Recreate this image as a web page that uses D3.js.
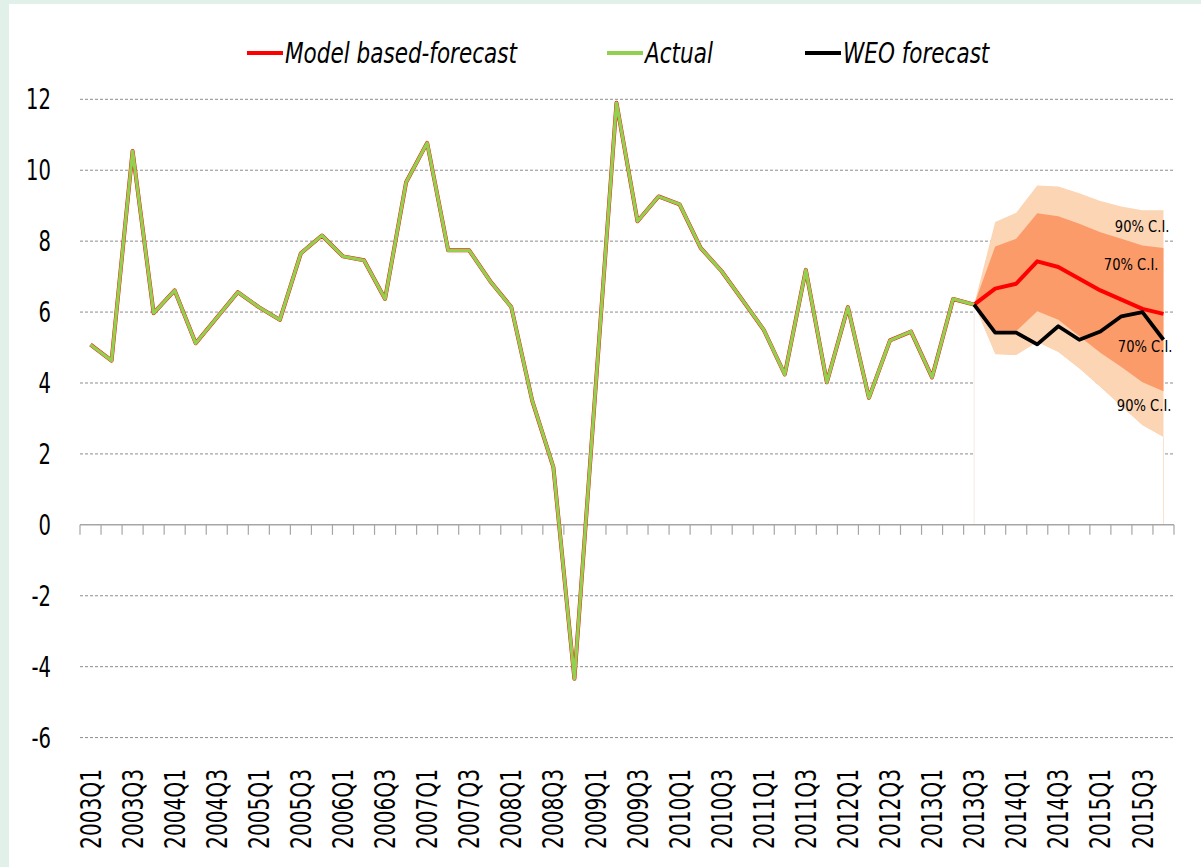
<!DOCTYPE html>
<html>
<head>
<meta charset="utf-8">
<script src="https://cdn.jsdelivr.net/npm/d3@7"></script>
<style>
  body { margin: 0; background: #e1f1ea; }
  svg { display: block; }
  text { font-family: "DejaVu Sans", sans-serif; fill: #000; }
</style>
</head>
<body>
<svg width="1201" height="867"></svg>
<script>
// quarters 2003Q1 .. 2015Q4
const years = d3.range(2003, 2016);
const quarters = [];
years.forEach((yr) => [1, 2, 3, 4].forEach((q) => quarters.push(yr + "Q" + q)));

// actual growth, 2003Q1 .. 2013Q3
const actual = [
  5.08, 4.63, 10.54, 5.97,
  6.61, 5.12, 5.84, 6.56,
  6.14, 5.78, 7.66, 8.16,
  7.57, 7.46, 6.37, 9.66,
  10.77, 7.74, 7.74, 6.87,
  6.14, 3.49, 1.63, -4.34,
  3.8, 11.9, 8.56, 9.26,
  9.04, 7.81, 7.15, 6.33,
  5.5, 4.24, 7.19, 4.02,
  6.14, 3.58, 5.2, 5.45,
  4.16, 6.37, 6.21
];

// forecast period, 2013Q3 .. 2015Q4
const forecastStart = 42;
const modelForecast = [6.21, 6.66, 6.8, 7.43, 7.27, 6.94, 6.61, 6.35, 6.09, 5.95];
const weoForecast = [6.21, 5.42, 5.42, 5.09, 5.6, 5.22, 5.45, 5.88, 6.0, 5.22];
const upper90 = [6.21, 8.54, 8.8, 9.57, 9.54, 9.35, 9.13, 8.98, 8.87, 8.87];
const upper70 = [6.21, 7.85, 8.07, 8.79, 8.7, 8.49, 8.25, 8.07, 7.88, 7.81];
const lower70 = [6.21, 5.43, 5.46, 6.02, 5.78, 5.32, 4.85, 4.45, 4.02, 3.77];
const lower90 = [6.21, 4.8, 4.78, 5.15, 4.87, 4.4, 3.88, 3.34, 2.8, 2.47];

const yTicks = [-6, -4, -2, 0, 2, 4, 6, 8, 10, 12];
const xTickLabels = quarters.filter((q, i) => i % 2 === 0);

// C.I. labels: text and value where they sit
const ciLabels = [
  { text: "90% C.I.", value: 8.25, dx: 6 },
  { text: "70% C.I.", value: 7.2, dx: -5 },
  { text: "70% C.I.", value: 4.87, dx: 9 },
  { text: "90% C.I.", value: 3.2, dx: 8 }
];

const legendItems = [
  { name: "Model based-forecast", color: "#ff0000", x: 247 },
  { name: "Actual", color: "#92d050", x: 607 },
  { name: "WEO forecast", color: "#000000", x: 805 }
];

const svg = d3.select("svg");
svg.append("rect").attr("x", 9).attr("y", 4).attr("width", 1192).attr("height", 863).attr("fill", "#fff");

const x = d3.scaleBand().domain(quarters).range([80, 1174]);
const y = d3.scaleLinear().domain([-6, 12]).range([737.6, 99.3]);
const cx = (i) => x(quarters[i]) + x.bandwidth() / 2;

// gridlines
svg.append("g")
  .selectAll("line")
  .data(yTicks.filter((t) => t !== 0))
  .enter()
  .append("line")
  .attr("x1", 80)
  .attr("x2", 1174)
  .attr("y1", (d) => y(d))
  .attr("y2", (d) => y(d))
  .attr("stroke", "#8c8c8c")
  .attr("stroke-width", 1)
  .attr("stroke-dasharray", "3,2");

// y labels (condensed look by squeezing)
svg.append("g")
  .selectAll("text")
  .data(yTicks)
  .enter()
  .append("text")
  .attr("transform", (d) => `translate(51, ${y(d)}) scale(0.7, 1)`)
  .attr("dy", "0.36em")
  .attr("text-anchor", "end")
  .style("font-size", "28px")
  .text((d) => d);

// forecast bands
const fIdx = (i) => cx(forecastStart + i);
const band = (lo, hi) =>
  d3.area().x((d, i) => fIdx(i)).y0((d, i) => y(lo[i])).y1((d, i) => y(hi[i]));

svg.append("path").datum(upper90).attr("d", band(lower90, upper90)).attr("fill", "#fcd5b5");
svg.append("path").datum(upper70).attr("d", band(lower70, upper70)).attr("fill", "#fc9b6a");
svg.append("path").datum(lower90).attr("d", band(lower90.map(() => 0), lower90)).attr("fill", "#fff");
svg.append("line")
  .attr("x1", fIdx(0)).attr("x2", fIdx(0))
  .attr("y1", y(lower90[0])).attr("y2", y(0))
  .attr("stroke", "#f2ebe7").attr("stroke-width", 1);
svg.append("line")
  .attr("x1", fIdx(9)).attr("x2", fIdx(9))
  .attr("y1", y(lower90[9])).attr("y2", y(0))
  .attr("stroke", "#fbe2cf").attr("stroke-width", 1);

// x axis at zero
const axisG = svg.append("g").attr("transform", `translate(0, ${y(0)})`);
axisG.append("line").attr("x1", 80).attr("x2", 1174).attr("stroke", "#a6a6a6").attr("stroke-width", 1.5);
axisG.selectAll("line.tick")
  .data(d3.range(quarters.length + 1))
  .enter()
  .append("line")
  .attr("class", "tick")
  .attr("x1", (d) => 80 + d * x.bandwidth())
  .attr("x2", (d) => 80 + d * x.bandwidth())
  .attr("y1", 0)
  .attr("y2", 10)
  .attr("stroke", "#a6a6a6")
  .attr("stroke-width", 1.2);

// x labels rotated
svg.append("g")
  .selectAll("text")
  .data(xTickLabels)
  .enter()
  .append("text")
  .attr("transform", (d) => `translate(${x(d) + x.bandwidth() / 2}, 769) rotate(-90) scale(0.72, 1)`)
  .attr("dy", "0.36em")
  .attr("text-anchor", "end")
  .style("font-size", "28px")
  .text((d) => d);

// lines
const line = d3.line().x((d) => d[0]).y((d) => y(d[1]));
const actualPts = actual.map((v, i) => [cx(i), v]);
const modelPts = actualPts.concat(modelForecast.slice(1).map((v, i) => [fIdx(i + 1), v]));
const weoPts = weoForecast.map((v, i) => [fIdx(i), v]);

svg.append("path").datum(modelPts).attr("d", line).attr("fill", "none")
  .attr("stroke", "#ff0000").attr("stroke-width", 4).attr("stroke-linejoin", "round");
svg.append("path").datum(actualPts).attr("d", line).attr("fill", "none")
  .attr("stroke", "#92d050").attr("stroke-width", 3.3).attr("stroke-linejoin", "round");
svg.append("path").datum(weoPts).attr("d", line).attr("fill", "none")
  .attr("stroke", "#000").attr("stroke-width", 3.8).attr("stroke-linejoin", "round");

// C.I. labels
svg.append("g")
  .selectAll("text")
  .data(ciLabels)
  .enter()
  .append("text")
  .attr("transform", (d) => `translate(${fIdx(9) + d.dx}, ${y(d.value)}) scale(0.82, 1)`)
  .attr("text-anchor", "end")
  .style("font-size", "16px")
  .text((d) => d.text);

// legend
const lg = svg.append("g");
legendItems.forEach((item) => {
  lg.append("line")
    .attr("x1", item.x).attr("x2", item.x + 36)
    .attr("y1", 53).attr("y2", 53)
    .attr("stroke", item.color).attr("stroke-width", 4);
  lg.append("text")
    .attr("transform", `translate(${item.x + 38}, 63) scale(0.77, 1)`)
    .style("font-size", "28px")
    .style("font-style", "italic")
    .text(item.name);
});
</script>
</body>
</html>
